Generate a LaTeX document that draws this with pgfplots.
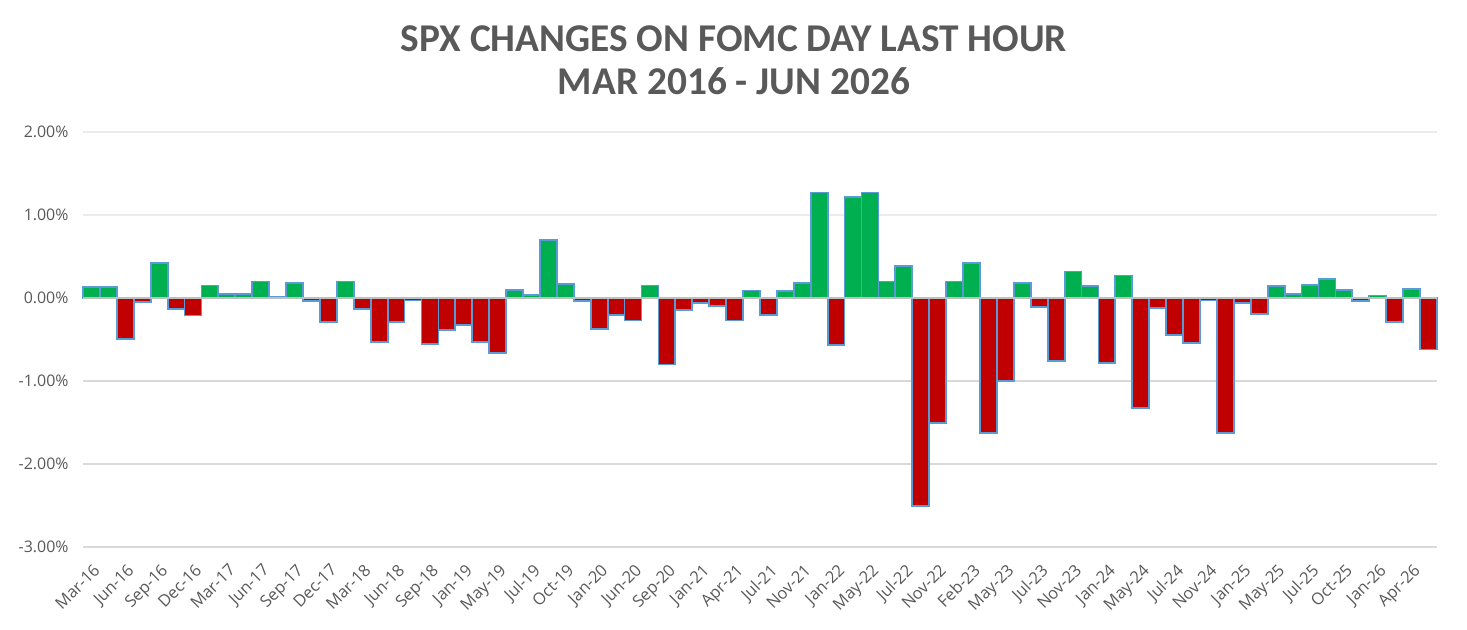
\documentclass[border=0pt]{standalone}
\usepackage{fontspec}
\setmainfont{Open Sans}
\newfontfamily\titlefont{Carlito}
\usepackage{pgfplots}
\usepackage{pgfplotstable}
\pgfplotsset{compat=1.18}
\definecolor{barG}{HTML}{00B050}
\definecolor{barR}{HTML}{C00000}
\definecolor{edgeB}{HTML}{5B9BD5}
\definecolor{gridU}{HTML}{EBEBEB}
\definecolor{gridL}{HTML}{D9D9D9}
\definecolor{zeroC}{HTML}{BFBFBF}
\definecolor{txt}{HTML}{595959}
\pgfplotstableread{
x y
0 0.13
1 0.13
2 -0.49
3 -0.05
4 0.42
5 -0.13
6 -0.21
7 0.15
8 0.05
9 0.05
10 0.20
11 0.01
12 0.18
13 -0.04
14 -0.29
15 0.20
16 -0.13
17 -0.53
18 -0.29
19 -0.03
20 -0.55
21 -0.39
22 -0.33
23 -0.53
24 -0.66
25 0.10
26 0.04
27 0.70
28 0.17
29 -0.04
30 -0.37
31 -0.20
32 -0.27
33 0.15
34 -0.80
35 -0.14
36 -0.06
37 -0.10
38 -0.27
39 0.09
40 -0.20
41 0.08
42 0.18
43 1.27
44 -0.57
45 1.22
46 1.27
47 0.20
48 0.39
49 -2.51
50 -1.51
51 0.20
52 0.42
53 -1.63
54 -1.00
55 0.18
56 -0.11
57 -0.76
58 0.32
59 0.14
60 -0.78
61 0.27
62 -1.33
63 -0.12
64 -0.45
65 -0.54
66 -0.03
67 -1.63
68 -0.06
69 -0.19
70 0.14
71 0.05
72 0.16
73 0.23
74 0.10
75 -0.04
76 0.03
77 -0.29
78 0.11
79 -0.62
}\data
\begin{document}
\begin{tikzpicture}
\path[use as bounding box] (-83bp,-83bp) rectangle (1384bp,547bp);
\begin{axis}[at={(0,0)}, anchor=south west, scale only axis,
  width=1354bp, height=415bp,
  xmin=-0.5, xmax=79.5, ymin=-3, ymax=2,
  ybar, bar width=1, bar shift=0pt,
  axis line style={draw=none}, tick style={draw=none},
  ytick={-3,-2,-1,0,1,2},
  yticklabels={-3.00\%,-2.00\%,-1.00\%,0.00\%,1.00\%,2.00\%},
  xtick={0,2,...,78},
  xticklabels={Mar-16,Jun-16,Sep-16,Dec-16,Mar-17,Jun-17,Sep-17,Dec-17,Mar-18,Jun-18,Sep-18,Jan-19,May-19,Jul-19,Oct-19,Jan-20,Jun-20,Sep-20,Jan-21,Apr-21,Jul-21,Nov-21,Jan-22,May-22,Jul-22,Nov-22,Feb-23,May-23,Jul-23,Nov-23,Jan-24,May-24,Jul-24,Nov-24,Jan-25,May-25,Jul-25,Oct-25,Jan-26,Apr-26},
  xticklabel style={yshift=-10bp, xshift=1bp, rotate=45, anchor=north east, inner sep=1bp, font=\fontsize{16.5}{19}\selectfont, text=txt},
  yticklabel style={font=\fontsize{16}{19}\selectfont, text=txt, xshift=-11bp},
  clip=false,
]
\draw[gridU, line width=2bp] (axis cs:-0.5,1) -- (axis cs:79.5,1);
\draw[gridU, line width=2bp] (axis cs:-0.5,2) -- (axis cs:79.5,2);
\draw[gridL, line width=1.5bp] (axis cs:-0.5,-1) -- (axis cs:79.5,-1);
\draw[gridL, line width=1.5bp] (axis cs:-0.5,-2) -- (axis cs:79.5,-2);
\draw[gridL, line width=1.5bp] (axis cs:-0.5,-3) -- (axis cs:79.5,-3);
\addplot[fill=barG, draw=edgeB, line width=1.8bp] table[x=x, y=y, restrict y to domain=0:10] {\data};
\addplot[fill=barR, draw=edgeB, line width=1.8bp] table[x=x, y=y, restrict y to domain=-10:0] {\data};
\draw[zeroC, line width=2bp] (axis cs:-0.5,0) -- (axis cs:79.5,0);
\end{axis}
\node[anchor=base, font=\titlefont\bfseries\fontsize{39.5}{46}\selectfont, text=txt] at (651bp,495bp) {SPX CHANGES ON FOMC DAY LAST HOUR};
\node[anchor=base, font=\titlefont\bfseries\fontsize{39.5}{46}\selectfont, text=txt] at (651bp,452bp) {MAR 2016 - JUN 2026};
\end{tikzpicture}
\end{document}
